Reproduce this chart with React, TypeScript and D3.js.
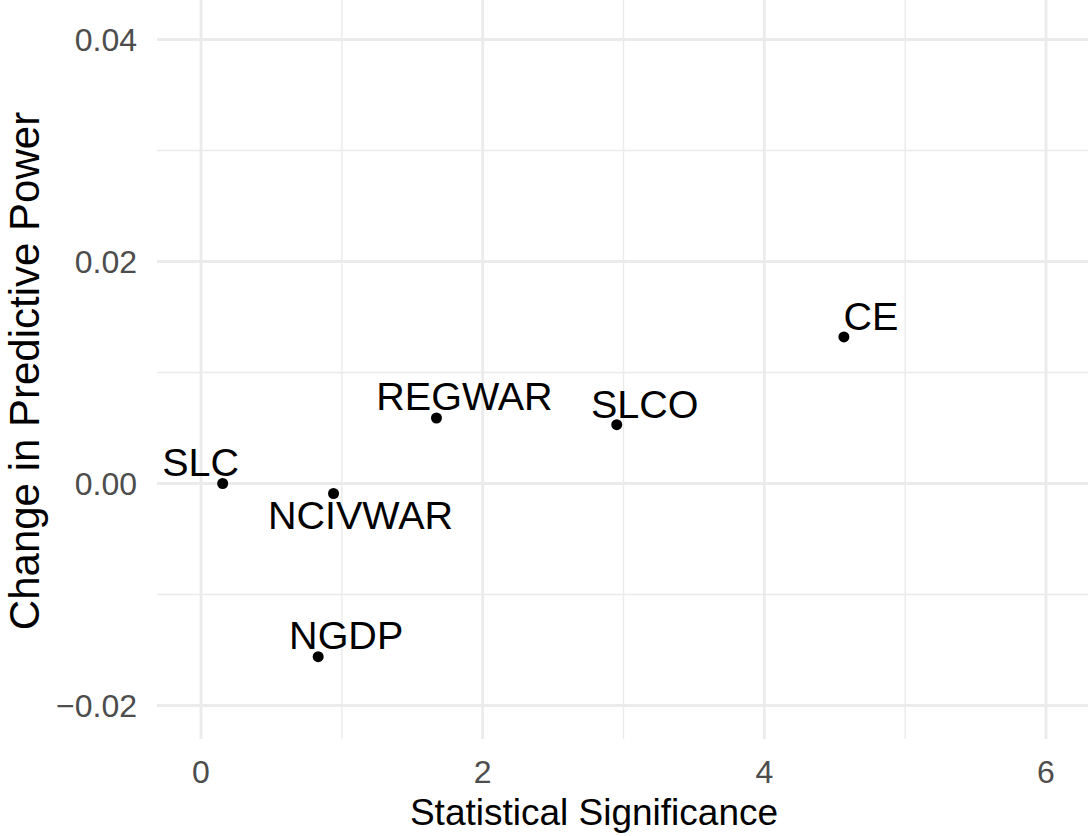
import * as d3 from "d3";

// variables, how significant they are, and how much they shift predictive power
const variables = ["SLC", "NCIVWAR", "NGDP", "REGWAR", "SLCO", "CE"];
const significance = [0.154, 0.941, 0.832, 1.672, 2.952, 4.565];
const powerChange = [0.0, -0.0009, -0.0156, 0.0059, 0.0053, 0.0132];

const xTicks = [0, 2, 4, 6];
const xMinor = [1, 3, 5];
const yTicks = [-0.02, 0.0, 0.02, 0.04];
const yMinor = [-0.01, 0.01, 0.03];

// where the text labels sit relative to each point (px), like ggrepel placed them
const labelShift: [number, number][] = [
    [-22, -8],
    [27, 36],
    [28, -8],
    [28, -8],
    [28, -7],
    [27, -7],
];

function App() {
    const width = 1088;
    const height = 836;
    const panel = {left: 157, right: 1088, top: 0, bottom: 739};
    const font = "'Liberation Sans', Arial, sans-serif";

    const xScale = d3.scaleLinear().domain([0, 6]).range([201, 1046]);
    const yScale = d3.scaleLinear().domain([0, 0.04]).range([483.5, 39.5]);

    const fmt = (v: number) => (v < 0 ? "\u2212" : "") + d3.format(".2f")(Math.abs(v));

    return (
        <svg width={width} height={height} style={{position: "absolute", left: 0, top: 0}}>
            <rect width={width} height={height} fill="white"/>
            {/* minor grid */}
            {xMinor.map(t =>
                <line key={"xm" + t} x1={xScale(t)} x2={xScale(t)} y1={panel.top} y2={panel.bottom}
                      stroke="#EBEBEB" strokeWidth={1.4}/>
            )}
            {yMinor.map(t =>
                <line key={"ym" + t} x1={panel.left} x2={panel.right} y1={yScale(t)} y2={yScale(t)}
                      stroke="#EBEBEB" strokeWidth={1.4}/>
            )}
            {/* major grid */}
            {xTicks.map(t =>
                <line key={"x" + t} x1={xScale(t)} x2={xScale(t)} y1={panel.top} y2={panel.bottom}
                      stroke="#EBEBEB" strokeWidth={2.8}/>
            )}
            {yTicks.map(t =>
                <line key={"y" + t} x1={panel.left} x2={panel.right} y1={yScale(t)} y2={yScale(t)}
                      stroke="#EBEBEB" strokeWidth={2.8}/>
            )}
            {/* tick labels */}
            {xTicks.map(t =>
                <text key={"xl" + t} x={xScale(t)} y={783} textAnchor="middle" fontFamily={font}
                      fontSize={32} fill="#4D4D4D">{t}</text>
            )}
            {yTicks.map(t =>
                <text key={"yl" + t} x={137} y={yScale(t)} dy="0.36em" textAnchor="end" fontFamily={font}
                      fontSize={32} fill="#4D4D4D">{fmt(t)}</text>
            )}
            {/* points */}
            {variables.map((v, i) =>
                <circle key={"p" + v} cx={xScale(significance[i])} cy={yScale(powerChange[i])} r={5.5} fill="black"/>
            )}
            {variables.map((v, i) =>
                <text key={"t" + v} x={xScale(significance[i]) + labelShift[i][0]}
                      y={yScale(powerChange[i]) + labelShift[i][1]} textAnchor="middle"
                      fontFamily={font} fontSize={39.5} fill="black">{v}</text>
            )}
            {/* axis titles */}
            <text x={594} y={825} textAnchor="middle" fontFamily={font} fontSize={37} fill="black">
                Statistical Significance
            </text>
            <text transform={`translate(39, 371) rotate(-90)`} textAnchor="middle" fontFamily={font}
                  fontSize={42} fill="black">
                Change in Predictive Power
            </text>
        </svg>
    );
}

export default App;
